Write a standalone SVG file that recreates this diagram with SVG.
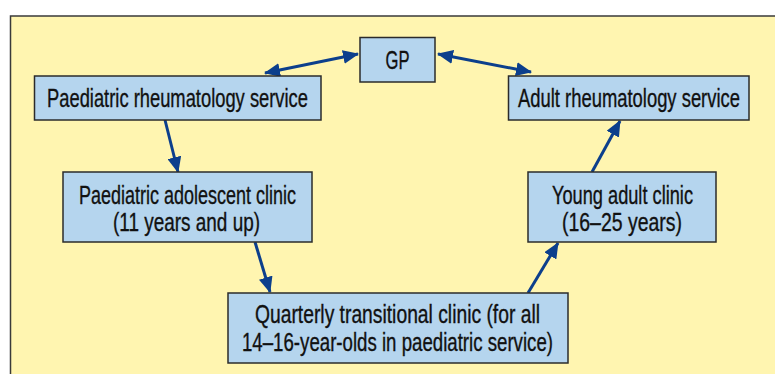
<svg xmlns="http://www.w3.org/2000/svg" width="775" height="374" viewBox="0 0 775 374">
<style>
.bg{fill:#FFF5B0;stroke:#3a3a3a;stroke-width:1.5}
.box{fill:#B5D5EE;stroke:#2b2b2b;stroke-width:1.5}
.t{font-family:"Liberation Sans Narrow","Liberation Sans",Arial,sans-serif;font-size:25px;fill:#111;stroke:#111;stroke-width:0.35;text-anchor:middle}
.c{stroke:#0C3F8C;stroke-width:3;fill:none}
</style>
<defs>
<marker id="ah" markerUnits="userSpaceOnUse" markerWidth="16" markerHeight="14" refX="15" refY="7" orient="auto-start-reverse" viewBox="0 0 16 14">
<path d="M0,0 L16,7 L0,14 Z" fill="#0C3F8C"/>
</marker>
</defs>
<rect class="bg" x="10.5" y="16" width="800" height="400"/>
<g id="connectors">
<line class="c" x1="358" y1="54" x2="265" y2="73" marker-start="url(#ah)" marker-end="url(#ah)"/>
<line class="c" x1="438" y1="54" x2="531" y2="72" marker-start="url(#ah)" marker-end="url(#ah)"/>
<line class="c" x1="165" y1="120" x2="178" y2="172" marker-end="url(#ah)"/>
<line class="c" x1="255" y1="242" x2="270" y2="292" marker-end="url(#ah)"/>
<line class="c" x1="528" y1="293" x2="558" y2="243" marker-end="url(#ah)"/>
<line class="c" x1="592" y1="172" x2="620" y2="121" marker-end="url(#ah)"/>
</g>
<g id="gp">
<rect class="box" x="360" y="37.5" width="75" height="44.5"/>
<g transform="scale(0.8,1)"><text class="t" x="496.875" y="69" textLength="30" lengthAdjust="spacingAndGlyphs">GP</text></g>
</g>
<g id="paed-rheum">
<rect class="box" x="34.5" y="76" width="286.5" height="44"/>
<g transform="scale(0.8,1)"><text class="t" x="221.875" y="107.5" textLength="326.25" lengthAdjust="spacingAndGlyphs">Paediatric rheumatology service</text></g>
</g>
<g id="adult-rheum">
<rect class="box" x="508.5" y="76" width="240.5" height="44"/>
<g transform="scale(0.8,1)"><text class="t" x="786.25" y="107.5" textLength="277.5" lengthAdjust="spacingAndGlyphs">Adult rheumatology service</text></g>
</g>
<g id="paed-adolescent">
<rect class="box" x="63" y="172" width="249" height="70"/>
<g transform="scale(0.8,1)">
<text class="t" x="234.375" y="204.5" textLength="271.25" lengthAdjust="spacingAndGlyphs">Paediatric adolescent clinic</text>
<text class="t" x="233.125" y="231.5" textLength="183.75" lengthAdjust="spacingAndGlyphs">(11 years and up)</text>
</g>
</g>
<g id="young-adult">
<rect class="box" x="528" y="172" width="188" height="70"/>
<g transform="scale(0.8,1)">
<text class="t" x="778.125" y="204.5" textLength="176.25" lengthAdjust="spacingAndGlyphs">Young adult clinic</text>
<text class="t" x="777.5" y="231.5" textLength="150" lengthAdjust="spacingAndGlyphs">(16–25 years)</text>
</g>
</g>
<g id="quarterly">
<rect class="box" x="228" y="293" width="340" height="70"/>
<g transform="scale(0.8,1)">
<text class="t" x="496.875" y="323.5" textLength="356.25" lengthAdjust="spacingAndGlyphs">Quarterly transitional clinic (for all</text>
<text class="t" x="496.875" y="351.5" textLength="388.75" lengthAdjust="spacingAndGlyphs">14–16-year-olds in paediatric service)</text>
</g>
</g>
</svg>
